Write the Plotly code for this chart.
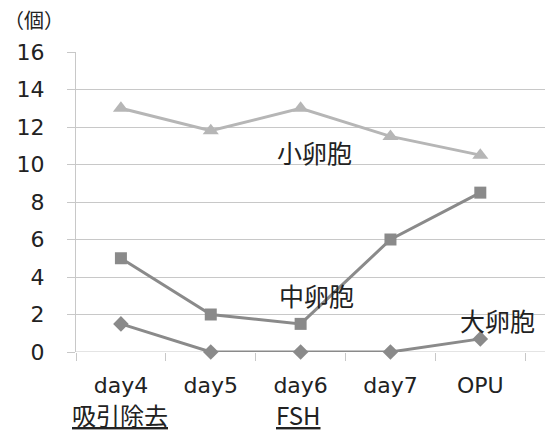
import plotly.graph_objects as go

categories = ["day4", "day5", "day6", "day7", "OPU"]
small_follicles = [13, 11.8, 13, 11.5, 10.5]
medium_follicles = [5, 2, 1.5, 6, 8.5]
large_follicles = [1.5, 0, 0, 0, 0.7]
y_ticks = [0, 2, 4, 6, 8, 10, 12, 14, 16]

x = list(range(len(categories)))
font_main = "DejaVu Sans, sans-serif"
font_jp = "Noto Sans CJK JP, sans-serif"
grid = "#c8c8c8"
text_col = "#222222"

fig = go.Figure()
fig.add_trace(go.Scatter(
    x=x, y=small_follicles, mode="lines+markers", cliponaxis=False,
    line=dict(color="#b6b6b6", width=3),
    marker=dict(symbol="triangle-up", size=14, color="#b6b6b6"),
))
fig.add_trace(go.Scatter(
    x=x, y=medium_follicles, mode="lines+markers", cliponaxis=False,
    line=dict(color="#8a8a8a", width=3),
    marker=dict(symbol="square", size=12, color="#8a8a8a"),
))
fig.add_trace(go.Scatter(
    x=x, y=large_follicles, mode="lines+markers", cliponaxis=False,
    line=dict(color="#8a8a8a", width=3),
    marker=dict(symbol="diamond", size=12, color="#8a8a8a"),
))

W, H = 545, 431
L, R, T, B = 76, 0, 52, 79

# label text, pixel centre (x, y), font size
labels = [
    ("小卵胞", 314, 152, 25),
    ("中卵胞", 316, 295, 25),
    ("大卵胞", 497, 320, 25),
    ("<u>吸引除去</u>", 120, 414, 24),
    ("<u>FSH</u>", 298, 414, 24),
]
ann_objs = [dict(text="（個）", x=0, y=1, xref="paper", yref="paper",
                 xanchor="left", yanchor="middle", showarrow=False,
                 xshift=-L + 2, yshift=(T - 19),
                 font=dict(family=font_jp, size=20, color=text_col))]
for txt, px, py, fs in labels:
    ann_objs.append(dict(text=txt, x=(px - L) / (W - L - R), y=1 - (py - T) / (H - T - B),
                         xref="paper", yref="paper", xanchor="center", yanchor="middle",
                         showarrow=False, font=dict(family=font_jp, size=fs, color=text_col)))

fig.update_layout(
    width=W, height=H,
    margin=dict(l=L, r=R, t=T, b=B),
    paper_bgcolor="white", plot_bgcolor="white",
    showlegend=False,
    font=dict(family=font_main, size=22, color=text_col),
    annotations=ann_objs,
)
fig.update_xaxes(
    range=[-0.5, 4.72], tickvals=x, ticktext=categories,
    showgrid=False, zeroline=False, ticks="", ticklabelstandoff=18,
    showline=False,
    minor=dict(tick0=0.5, dtick=1, ticks="outside", ticklen=8, tickcolor=grid, showgrid=False),
    tickfont=dict(family=font_main, size=22, color=text_col),
)
fig.update_yaxes(
    range=[0, 16], tickvals=y_ticks, showgrid=True, gridcolor=grid, gridwidth=1,
    zeroline=False, showline=True, linecolor=grid, linewidth=1,
    ticks="outside", ticklen=8, tickcolor=grid, ticklabelstandoff=18,
    tickfont=dict(family=font_main, size=22, color=text_col),
)
# baseline at zero spanning the full plot width
fig.add_shape(type="line", xref="paper", yref="y", x0=0, x1=1, y0=0, y1=0,
              line=dict(color=grid, width=1), layer="below")

fig.write_html("out.html")
